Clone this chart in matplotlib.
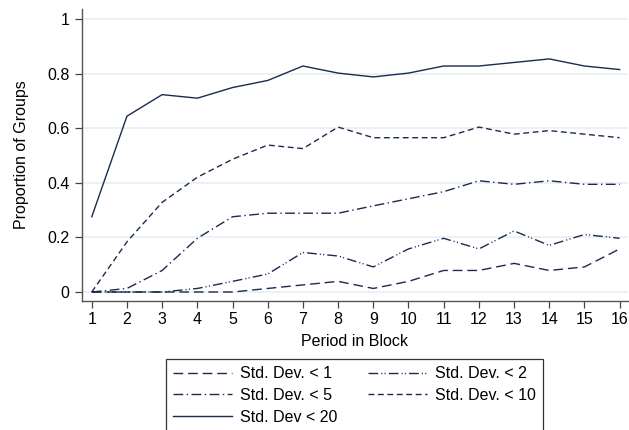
import matplotlib
matplotlib.use("Agg")
import matplotlib.pyplot as plt

plt.rcParams['font.family'] = ['Liberation Sans', 'DejaVu Sans']
plt.rcParams['lines.scale_dashes'] = False

periods = list(range(1, 17))

sd_lt1 = [0, 0, 0, 0, 0, 0.013, 0.026, 0.039, 0.013, 0.039, 0.079, 0.079,
          0.105, 0.079, 0.092, 0.158]
sd_lt2 = [0, 0, 0, 0.013, 0.039, 0.066, 0.145, 0.132, 0.092, 0.158, 0.197,
          0.158, 0.224, 0.171, 0.211, 0.197]
sd_lt5 = [0, 0.013, 0.079, 0.197, 0.276, 0.289, 0.289, 0.289, 0.316, 0.342,
          0.368, 0.408, 0.395, 0.408, 0.395, 0.395]
sd_lt10 = [0, 0.184, 0.329, 0.421, 0.487, 0.539, 0.526, 0.605, 0.566, 0.566,
           0.566, 0.605, 0.579, 0.592, 0.579, 0.566]
sd_lt20 = [0.276, 0.645, 0.724, 0.711, 0.750, 0.776, 0.829, 0.803, 0.789,
           0.803, 0.829, 0.829, 0.842, 0.855, 0.829, 0.816]

labels = ["Std. Dev. < 1", "Std. Dev. < 2", "Std. Dev. < 5",
          "Std. Dev. < 10", "Std. Dev < 20"]

yticks = [0, 0.2, 0.4, 0.6, 0.8, 1]
ytick_labels = ["0", "0.2", "0.4", "0.6", "0.8", "1"]

NAVY = "#1b2a4f"


def main():
    fig = plt.figure(figsize=(6.29, 4.30), dpi=100)
    ax = fig.add_axes([0.130, 0.300, 0.868, 0.679])

    styles = [
        (0, (7, 3.5)),
        (0, (7, 2.2, 0.8, 1.6, 0.8, 2.2)),
        (0, (7, 2.5, 1, 2.5)),
        (0, (4.2, 2.6)),
        "-",
    ]
    series = [sd_lt1, sd_lt2, sd_lt5, sd_lt10, sd_lt20]
    handles = []
    for vals, ls, lab in zip(series, styles, labels):
        h, = ax.plot(periods, vals, color=NAVY, lw=1.0, linestyle=ls, label=lab)
        handles.append(h)

    ax.set_xlim(0.716, 16.23)
    ax.set_ylim(-0.033, 1.038)
    ax.set_xticks(periods)
    ax.set_yticks(yticks)
    ax.set_yticklabels(ytick_labels)
    ax.tick_params(axis='both', labelsize=11.5, length=5, width=0.9,
                   color="#444444", direction='out')
    ax.tick_params(axis='y', pad=4)
    ax.tick_params(axis='x', pad=3)

    ax.grid(axis='y', color="#e6edf1", lw=1.1)
    ax.set_axisbelow(True)
    for s in ['top', 'right']:
        ax.spines[s].set_visible(False)
    for s in ['left', 'bottom']:
        ax.spines[s].set_color("#555555")
        ax.spines[s].set_linewidth(1.0)

    ax.set_xlabel("Period in Block", fontsize=11.5, labelpad=5)
    ax.set_ylabel("Proportion of Groups", fontsize=11.5, labelpad=13)

    # column-wise fill so rows read: <1, <2 / <5, <10 / <20
    order = [0, 2, 4, 1, 3]
    leg = fig.legend([handles[i] for i in order], [labels[i] for i in order],
                     ncol=2, loc='upper left',
                     bbox_to_anchor=(166 / 629, 1 - 359 / 430),
                     borderaxespad=0,
                     fontsize=11.5, frameon=True, fancybox=False,
                     edgecolor="black", handlelength=3.7, handletextpad=0.5,
                     columnspacing=1.9, labelspacing=0.42, borderpad=0.45)
    leg.get_frame().set_linewidth(0.9)

    fig.savefig("out.png", dpi=100)


if __name__ == "__main__":
    main()
